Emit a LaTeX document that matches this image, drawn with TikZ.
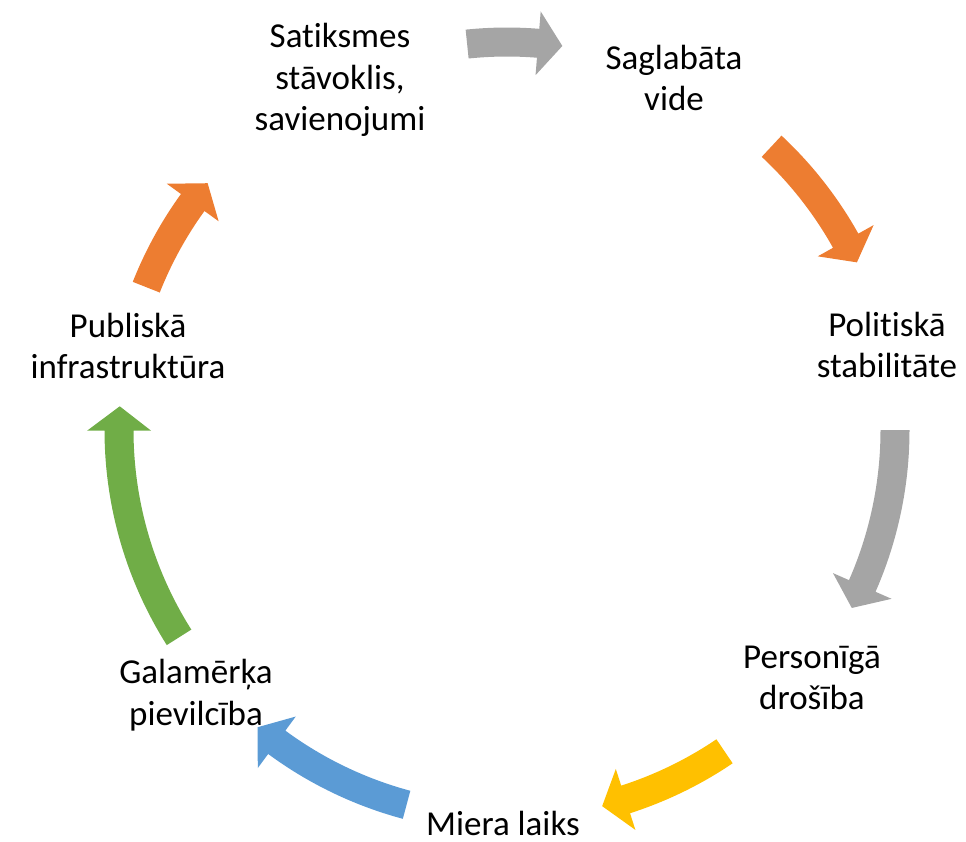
\documentclass[tikz,border=0pt]{standalone}
\usepackage{fontspec}
\setmainfont{Carlito}[Ligatures=NoCommon]
\definecolor{cgray}{HTML}{A5A5A5}
\definecolor{corange}{HTML}{ED7D31}
\definecolor{cyellow}{HTML}{FFC000}
\definecolor{cblue}{HTML}{5B9BD5}
\definecolor{cgreen}{HTML}{70AD47}
\newcommand\cycarrow[3]{%
  \pgfmathsetmacro\hb{#3+3.6}%
  \fill[#1] (#2:402.5) arc[start angle=#2, end angle=\hb, radius=402.5]
    -- (\hb:420) -- (#3:388) -- (\hb:356) -- (\hb:373.5)
    arc[start angle=\hb, end angle=#2, radius=373.5] -- cycle;
}
\begin{document}
\begin{tikzpicture}[x=1pt,y=1pt,
  lbl/.style={align=center,font=\fontsize{35}{41.5}\selectfont,inner sep=0pt}]
\useasboundingbox (0,0) rectangle (966,-841);
\node[lbl] (n1) at (340,-80) {Satiksmes\\stāvoklis,\\savienojumi};
\node[lbl] (n2) at (674,-78) {Saglabāta\\vide};
\node[lbl] (n3) at (887,-345) {Politiskā\\stabilitāte};
\node[lbl] (n4) at (812,-678) {Personīgā\\drošība};
\node[lbl] (n5) at (503,-823) {Miera laiks};
\node[lbl] (n6) at (196,-695) {Galamērķa\\pievilcība};
\node[lbl] (n7) at (128,-346) {Publiskā\\infrastruktūra};
\begin{scope}[shift={(507,-430)}]
\cycarrow{cgray}{95.9}{81.8}
\cycarrow{corange}{47}{25.6}
\cycarrow{cgray}{0}{-27.3}
\cycarrow{cyellow}{-55.9}{-75.8}
\cycarrow{cblue}{-105}{-130}
\cycarrow{cgreen}{212.3}{176.5}
\cycarrow{corange}{158.4}{140.5}
\end{scope}
\end{tikzpicture}
\end{document}
